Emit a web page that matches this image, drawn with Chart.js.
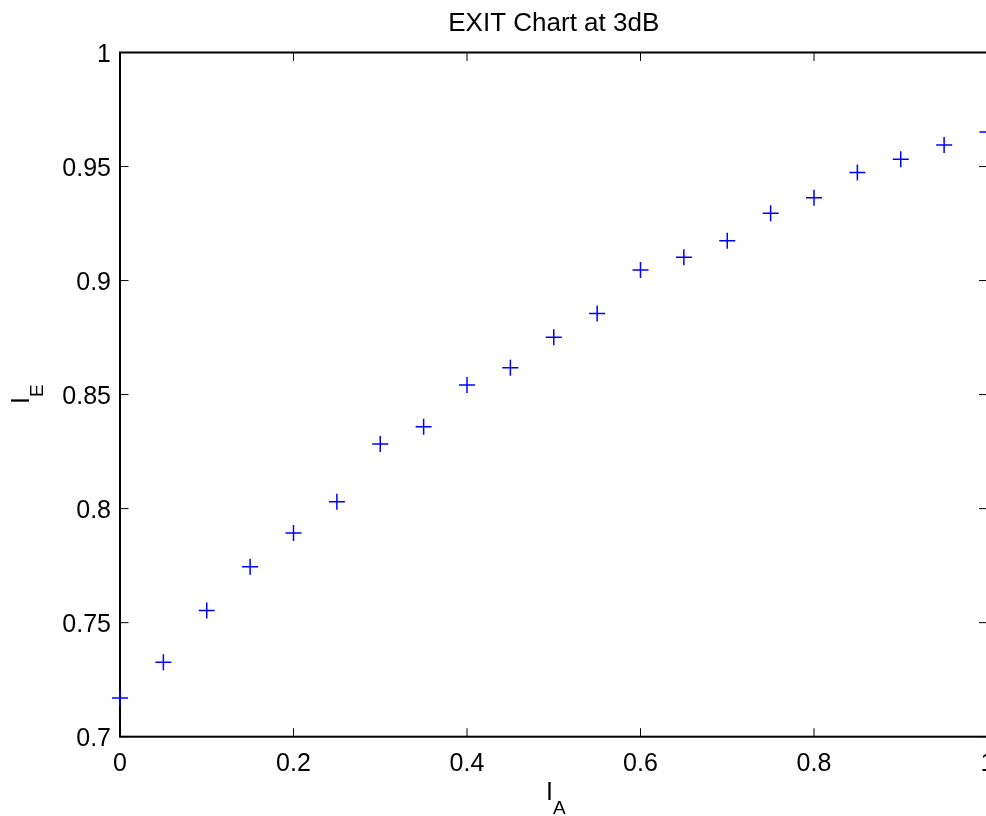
<!DOCTYPE html>
<html>
<head>
<meta charset="utf-8">
<title>EXIT Chart at 3dB</title>
<script src="https://cdn.jsdelivr.net/npm/chart.js@4.4.1/dist/chart.umd.min.js"></script>
<style>
  html, body { margin: 0; padding: 0; background: #fff; overflow: hidden; }
  #wrap { width: 1020px; height: 816px; }
</style>
</head>
<body>
<div id="wrap"><canvas id="exitChart" width="1020" height="816"></canvas></div>
<script>
// EXIT chart data
const iaValues = [0, 0.05, 0.1, 0.15, 0.2, 0.25, 0.3, 0.35, 0.4, 0.45, 0.5,
                  0.55, 0.6, 0.65, 0.7, 0.75, 0.8, 0.85, 0.9, 0.95, 1];
const ieValues = [0.717, 0.7326, 0.7553, 0.7745, 0.7893, 0.803, 0.8283, 0.8359, 0.8542, 0.8618, 0.8751,
                  0.8856, 0.9046, 0.9102, 0.9175, 0.9295, 0.9363, 0.9474, 0.9532, 0.9594, 0.9651];

const xTicks = [0, 0.2, 0.4, 0.6, 0.8, 1];
const xTickLabels = ['0', '0.2', '0.4', '0.6', '0.8', '1'];
const yTicks = [0.7, 0.75, 0.8, 0.85, 0.9, 0.95, 1];
const yTickLabels = ['0.7', '0.75', '0.8', '0.85', '0.9', '0.95', '1'];

const FONT = '"Liberation Sans", Arial, Helvetica, sans-serif';

// MATLAB style box, inward ticks, labels and title
const matlabAxes = {
    id: 'matlabAxes',
    beforeDatasetsDraw(chart) {
        const ctx = chart.ctx;
        const area = chart.chartArea;
        const xs = chart.scales.x;
        const ys = chart.scales.y;
        const tickLen = 8.5;

        ctx.save();
        ctx.strokeStyle = '#000';

        // ticks on all four sides
        ctx.lineWidth = 1;
        ctx.beginPath();
        xTicks.forEach(v => {
            const px = xs.getPixelForValue(v);
            ctx.moveTo(px, area.bottom);
            ctx.lineTo(px, area.bottom - tickLen);
            ctx.moveTo(px, area.top);
            ctx.lineTo(px, area.top + tickLen);
        });
        yTicks.forEach(v => {
            const py = ys.getPixelForValue(v);
            ctx.moveTo(area.left, py);
            ctx.lineTo(area.left + tickLen, py);
            ctx.moveTo(area.right, py);
            ctx.lineTo(area.right - tickLen, py);
        });
        ctx.stroke();

        // box
        ctx.lineWidth = 2;
        ctx.strokeRect(area.left, area.top, area.right - area.left, area.bottom - area.top);

        // tick labels
        ctx.fillStyle = '#000';
        ctx.font = '25px ' + FONT;
        ctx.textBaseline = 'alphabetic';
        ctx.textAlign = 'center';
        xTicks.forEach((v, i) => {
            ctx.fillText(xTickLabels[i], xs.getPixelForValue(v), area.bottom + 34);
        });
        ctx.textAlign = 'right';
        yTicks.forEach((v, i) => {
            ctx.fillText(yTickLabels[i], area.left - 9, ys.getPixelForValue(v) + 9.5);
        });

        // title
        ctx.font = '26px ' + FONT;
        ctx.textAlign = 'center';
        ctx.fillText('EXIT Chart at 3dB', (area.left + area.right) / 2, 30.5);

        // x label: I_A
        ctx.textAlign = 'left';
        ctx.font = '25px ' + FONT;
        const cx = (area.left + area.right) / 2;
        const wI = ctx.measureText('I').width;
        ctx.font = '19px ' + FONT;
        const wA = ctx.measureText('A').width;
        let sx = cx - (wI + wA) / 2 + 2;
        ctx.font = '25px ' + FONT;
        ctx.fillText('I', sx, 800);
        ctx.font = '19px ' + FONT;
        ctx.fillText('A', sx + wI, 814);

        // y label: I_E (rotated)
        const cy = (area.top + area.bottom) / 2;
        ctx.font = '19px ' + FONT;
        const wE = ctx.measureText('E').width;
        ctx.translate(29.3, cy + (wI + wE) / 2 - 0.5);
        ctx.rotate(-Math.PI / 2);
        ctx.font = '25px ' + FONT;
        ctx.fillText('I', 0, 0);
        ctx.font = '19px ' + FONT;
        ctx.fillText('E', wI, 13.4);
        ctx.restore();
    }
};

new Chart(document.getElementById('exitChart'), {
    type: 'scatter',
    data: {
        datasets: [{
            label: 'EXIT',
            data: iaValues.map((x, i) => ({ x: x, y: ieValues[i] })),
            showLine: false,
            pointStyle: 'cross',
            pointRadius: 8,
            pointHoverRadius: 8,
            borderColor: '#0000ff',
            backgroundColor: '#0000ff',
            pointBorderWidth: 1.5,
            clip: false
        }]
    },
    options: {
        responsive: false,
        animation: false,
        layout: { padding: { top: 52.5, right: 32.5, bottom: 0, left: 0 } },
        plugins: {
            legend: { display: false },
            tooltip: { enabled: false },
            title: { display: false }
        },
        scales: {
            x: {
                type: 'linear',
                min: 0,
                max: 1,
                grid: { display: false },
                border: { display: false },
                ticks: { display: false },
                afterFit(scale) { scale.height = 79.3; }
            },
            y: {
                type: 'linear',
                min: 0.7,
                max: 1,
                grid: { display: false },
                border: { display: false },
                ticks: { display: false },
                afterFit(scale) { scale.width = 120; }
            }
        }
    },
    plugins: [matlabAxes]
});
</script>
</body>
</html>
